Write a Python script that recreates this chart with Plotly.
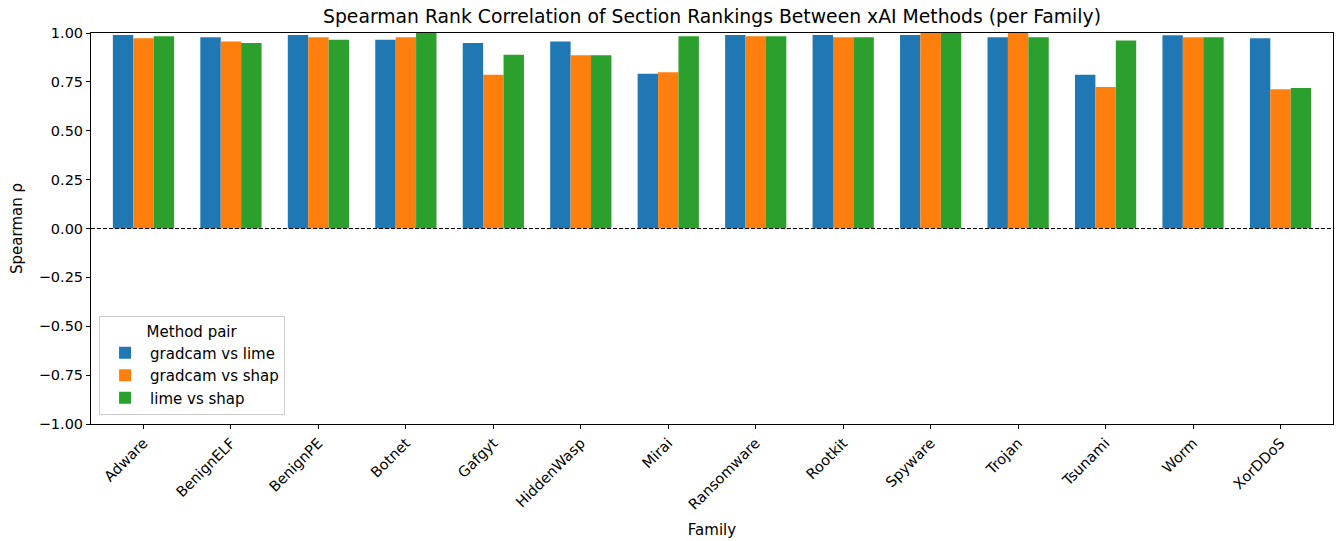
import plotly.graph_objects as go

families = ["Adware", "BenignELF", "BenignPE", "Botnet", "Gafgyt", "HiddenWasp", "Mirai",
            "Ransomware", "Rootkit", "Spyware", "Trojan", "Tsunami", "Worm", "XorDDoS"]
gradcam_vs_lime = [0.990, 0.978, 0.990, 0.966, 0.949, 0.956, 0.792, 0.990, 0.990, 0.990, 0.978, 0.787, 0.988, 0.973]
gradcam_vs_shap = [0.973, 0.956, 0.978, 0.978, 0.787, 0.886, 0.799, 0.983, 0.978, 1.000, 1.000, 0.724, 0.978, 0.712]
lime_vs_shap = [0.983, 0.949, 0.966, 1.000, 0.889, 0.886, 0.983, 0.983, 0.978, 1.000, 0.978, 0.961, 0.978, 0.719]

series = [("gradcam vs lime", gradcam_vs_lime, "#1f77b4"),
          ("gradcam vs shap", gradcam_vs_shap, "#ff7f0e"),
          ("lime vs shap", lime_vs_shap, "#2ca02c")]

font = "DejaVu Sans"
fig = go.Figure()
for name, vals, col in series:
    fig.add_trace(go.Bar(x=families, y=vals, name=name, marker_color=col,
                         marker_line_width=0))

fig.add_shape(type="line", xref="paper", yref="y", x0=0, x1=1, y0=0, y1=0,
              line=dict(color="black", width=1, dash="4px,2px"), layer="above")

fig.update_layout(
    width=1336, height=541,
    margin=dict(l=91, r=3, t=33, b=117),
    paper_bgcolor="white", plot_bgcolor="white",
    barmode="group", bargap=0.3, bargroupgap=0,
    font=dict(family=font, size=14, color="black"),
    title=dict(text="Spearman Rank Correlation of Section Rankings Between xAI Methods (per Family)",
               x=(91 + 1333) / 2 / 1336, xanchor="center", y=1 - 16 / 541, yanchor="middle",
               font=dict(size=18.8, family=font, color="black")),
    legend=dict(x=0.0065, y=0.023, xanchor="left", yanchor="bottom",
                bgcolor="rgba(255,255,255,0.8)", bordercolor="#cccccc", borderwidth=1,
                font=dict(size=15, family=font),
                title=dict(text="Method pair", side="top center", font=dict(size=15, family=font)),
                itemwidth=40, tracegroupgap=0),
    showlegend=True,
)
fig.update_xaxes(
    title=dict(text="Family", font=dict(size=15, family=font), standoff=12),
    tickangle=-45, ticks="outside", ticklen=4, tickcolor="black",
    showline=True, linecolor="black", linewidth=1, mirror=True,
    showgrid=False, range=[-0.6, 13.6], tickfont=dict(size=14.5, family=font),
)
fig.update_yaxes(
    title=dict(text="Spearman ρ", font=dict(size=15, family=font), standoff=12),
    range=[-1, 1], tickvals=[-1, -0.75, -0.5, -0.25, 0, 0.25, 0.5, 0.75, 1],
    ticktext=["\u22121.00", "\u22120.75", "\u22120.50", "\u22120.25", "0.00", "0.25", "0.50", "0.75", "1.00"],
    ticks="outside", ticklen=4, tickcolor="black",
    showline=True, linecolor="black", linewidth=1, mirror=True,
    showgrid=False, zeroline=False, tickfont=dict(size=14.5, family=font),
)

fig.write_html("out.html")
